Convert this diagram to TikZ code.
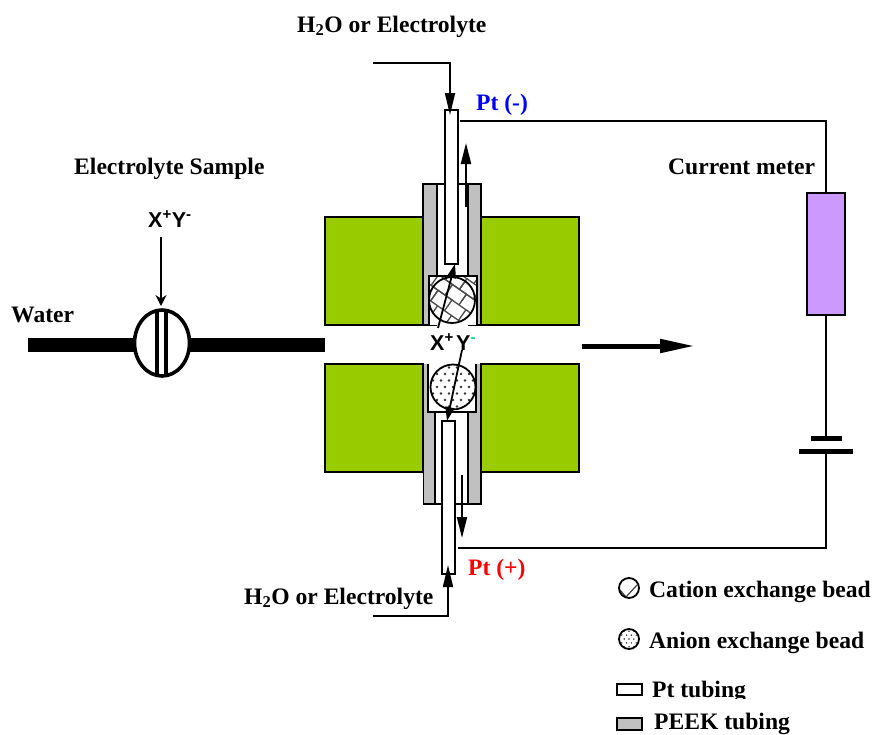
\documentclass[tikz,border=0pt]{standalone}
\usepackage{fontspec}
\setmainfont{Liberation Serif}
\newfontfamily\arialfont{Liberation Sans}
\usetikzlibrary{arrows.meta,shapes.geometric}
\definecolor{blockgreen}{HTML}{99CC00}
\definecolor{peekgrey}{HTML}{C0C0C0}
\definecolor{meterpurple}{HTML}{CC99FF}
\definecolor{ionteal}{HTML}{00E080}
\newcommand{\brickhatch}[3]{% centre x, y, scale
  \begin{scope}[shift={(#1,#2)},rotate=-35,scale=#3,draw=black!70,line width=1.3pt]
    \foreach \r in {-4,...,4} {\draw (-45,\r*13) -- (45,\r*13);}
    \foreach \r in {-4,...,3} {\foreach \c in {-4,...,4} {
      \draw ({\c*17+mod(\r+4,2)*8.5},\r*13) -- ({\c*17+mod(\r+4,2)*8.5},\r*13+13);}}
  \end{scope}}
\newcommand{\dotfield}[3]{% centre x, y, scale
  \begin{scope}[shift={(#1,#2)},scale=#3]
    \foreach \r in {-4,...,4} {\foreach \c in {-4,...,4} {
      \fill[black!80] ({\c*8+mod(\r+4,2)*4},\r*6.5) circle[radius=1.35];}}
  \end{scope}}
\tikzset{
  x=1pt,y=-1pt,
  label text/.style={font=\bfseries\fontsize{23.6}{26}\selectfont,inner sep=0pt,anchor=base west},
  ion text/.style={font=\arialfont\bfseries\fontsize{21.5}{24}\selectfont,inner sep=0pt,anchor=base west},
  wire/.style={line width=1.7pt,draw=black},
  flow/.style={line width=2pt,draw=black,-{Triangle[length=21pt,width=10pt]}},
  thin flow/.style={line width=1.8pt,draw=black,-{Triangle[length=14pt,width=9pt]}},
  block/.style={fill=blockgreen,draw=black,line width=1.6pt},
  peek/.style={fill=peekgrey,draw=black,line width=1.6pt},
  pttube/.style={fill=white,draw=black,line width=1.5pt,inner sep=0pt,outer sep=0pt,minimum width=13pt},
  bead/.style={draw=black,line width=1.8pt,circle,inner sep=0pt,outer sep=0pt},
  valve body/.style={draw=black,line width=3.6pt,ellipse,inner sep=0pt,outer sep=0pt,minimum width=55pt,minimum height=66pt,fill=white},
}
\begin{document}
\begin{tikzpicture}
\useasboundingbox (0,0) rectangle (873,734);
% green blocks
\draw[block] (325,217) rectangle (423,325);
\draw[block] (481,217) rectangle (579,325);
\draw[block] (325,364) rectangle (423,472);
\draw[block] (481,364) rectangle (579,472);
% PEEK sleeves
\draw[peek] (423,325) -- (423,184) -- (481,184) -- (481,325);
\fill[white] (437,185) rectangle (468,325);
\draw[line width=1.6pt] (437,184) -- (437,325) (468,184) -- (468,325);
\draw[line width=1.6pt] (423,325) -- (437,325) (468,325) -- (481,325);
\draw[peek] (423.5,364) -- (423.5,504) -- (481,504) -- (481,364);
\fill[white] (435,364) rectangle (468,503);
\draw[line width=1.6pt] (435,364) -- (435,504) (468,364) -- (468,504);
% bead holders
\fill[white] (429,276) rectangle (477,325);
\fill[white] (428,364) rectangle (476,412);
% upper bead hatch
\begin{scope}
  \clip (429,276) rectangle (477,300);
  \brickhatch{452}{300}{1}
\end{scope}
\begin{scope}
  \clip (452,300) circle[radius=23];
  \brickhatch{452}{300}{1}
\end{scope}
\draw[line width=1.6pt] (429,325) -- (429,276) -- (477,276) -- (477,325);
\node[bead,minimum size=46pt] (cationbead) at (452,300) {};
% lower bead dots
\begin{scope}
  \clip (453,387) circle[radius=22.5];
  \dotfield{453}{387}{1}
\end{scope}
\draw[line width=2pt] (428,364) -- (428,412) -- (476,412) -- (476,364);
\node[bead,minimum size=45pt] (anionbead) at (453,387) {};
% Pt tubes
\node[pttube,draw,minimum height=154pt] (pttop) at (451.5,187) {};
\node[pttube,draw,minimum height=153pt] (ptbottom) at (448.5,497.5) {};
% water line and injector
\coordinate (waterstart) at (28,344.5);
\coordinate (channelleft) at (325,344.5);
\coordinate (valvemid) at (162,344.5);
\draw[line width=14pt] (waterstart) -- (valvemid) -- (channelleft);
\node[valve body] (valve) at (162,343) {};
\draw[line width=4.6pt] (157,311) -- (157,375) (166,311) -- (166,375);
% sample inlet
\node[ion text] (sample) at (148,227) {X\textsuperscript{+}Y\textsuperscript{-}};
\coordinate (samplestart) at (161,237);
\coordinate (sampleend) at (161,306);
\draw[line width=1.7pt,-{Stealth[length=11pt,width=11pt]}] (samplestart) -- (sampleend);
% outlet
\coordinate (outstart) at (582,346);
\coordinate (outend) at (695,346);
\draw[line width=5pt,-{Triangle[length=35pt,width=13pt]}] (outstart) -- (outend);
% flows in the tubes
\coordinate (topfeed) at (373,63);
\coordinate (topfeedend) at (450,115);
\draw[line width=1.7pt,-{Triangle[length=22pt,width=10pt]}] (topfeed) -- (450,63) -- (topfeedend);
\coordinate (upa) at (466,207);
\coordinate (upb) at (466,143);
\draw[flow] (upa) -- (upb);
\coordinate (bottomfeed) at (373,616);
\coordinate (bottomfeedend) at (448,565);
\draw[line width=1.7pt,-{Triangle[length=22pt,width=10pt]}] (bottomfeed) -- (448,616) -- (bottomfeedend);
\coordinate (downa) at (462,475);
\coordinate (downb) at (462,538);
\draw[flow] (downa) -- (downb);
% ion labels
\node[ion text] (xion) at (430,350) {X\textsuperscript{+}};
\node[ion text] (yion) at (456,350) {Y\textsuperscript{\textcolor{ionteal}{-}}};
% ion paths
\coordinate (cationa) at (438,328);
\coordinate (cationb) at (455,264);
\coordinate (aniona) at (462,350);
\coordinate (anionb) at (447,421);
\draw[thin flow] (cationa) -- (cationb);
\draw[thin flow] (aniona) -- (anionb);
% circuit
\node[draw=black,line width=1.6pt,fill=meterpurple,inner sep=0pt,outer sep=0pt,minimum width=38pt,minimum height=122pt] (meter) at (826,254) {};
\coordinate (ptawire) at (460,121);
\coordinate (ptbwire) at (458,548);
\coordinate (batterya) at (826,438.5);
\coordinate (batteryb) at (826,451.5);
\draw[wire] (ptawire) -| (meter.north);
\draw[wire] (meter.south) -- (batterya);
\draw[wire] (batteryb) |- (ptbwire);
\draw[line width=5pt] (811,438.5) -- (842,438.5);
\draw[line width=5pt] (799,451.5) -- (853,451.5);
% labels
\node[label text] (topfeedlabel) at (297,32) {H\textsubscript{2}O or Electrolyte};
\node[label text,text=blue] (ptminus) at (476,110) {Pt (-)};
\node[label text] (samplelabel) at (74,174) {Electrolyte Sample};
\node[label text] (meterlabel) at (668,174) {Current meter};
\node[label text] (waterlabel) at (11,322) {Water};
\node[label text,text=red] (ptplus) at (468,575) {Pt (+)};
\node[label text] (bottomfeedlabel) at (244,604) {H\textsubscript{2}O or Electrolyte};
% legend
\begin{scope}
  \clip (629,588) circle[radius=10];
  \draw[line width=1.2pt,black!75] (620,590) -- (626,597) -- (637,585);
\end{scope}
\node[bead,minimum size=20pt] (legendcation) at (629,588) {};
\node[label text] (cationlabel) at (649,597) {Cation exchange bead};
\begin{scope}
  \clip (629,639) circle[radius=10];
  \dotfield{629}{639}{0.6}
\end{scope}
\node[bead,minimum size=20pt] (legendanion) at (629,639) {};
\node[label text] (anionlabel) at (649,648) {Anion exchange bead};
\node[draw=black,line width=1.4pt,fill=white,inner sep=0pt,minimum width=25pt,minimum height=11pt] (legendpt) at (629.5,689.5) {};
\node[label text] (ptlabel) at (652,697) {Pt tubing};
\fill[white] (645,698.5) rectangle (873,711);
\node[draw=black,line width=1.4pt,fill=peekgrey,inner sep=0pt,minimum width=25pt,minimum height=12pt] (legendpeek) at (629.5,724) {};
\node[label text] (peeklabel) at (654,729) {PEEK tubing};
\end{tikzpicture}
\end{document}
